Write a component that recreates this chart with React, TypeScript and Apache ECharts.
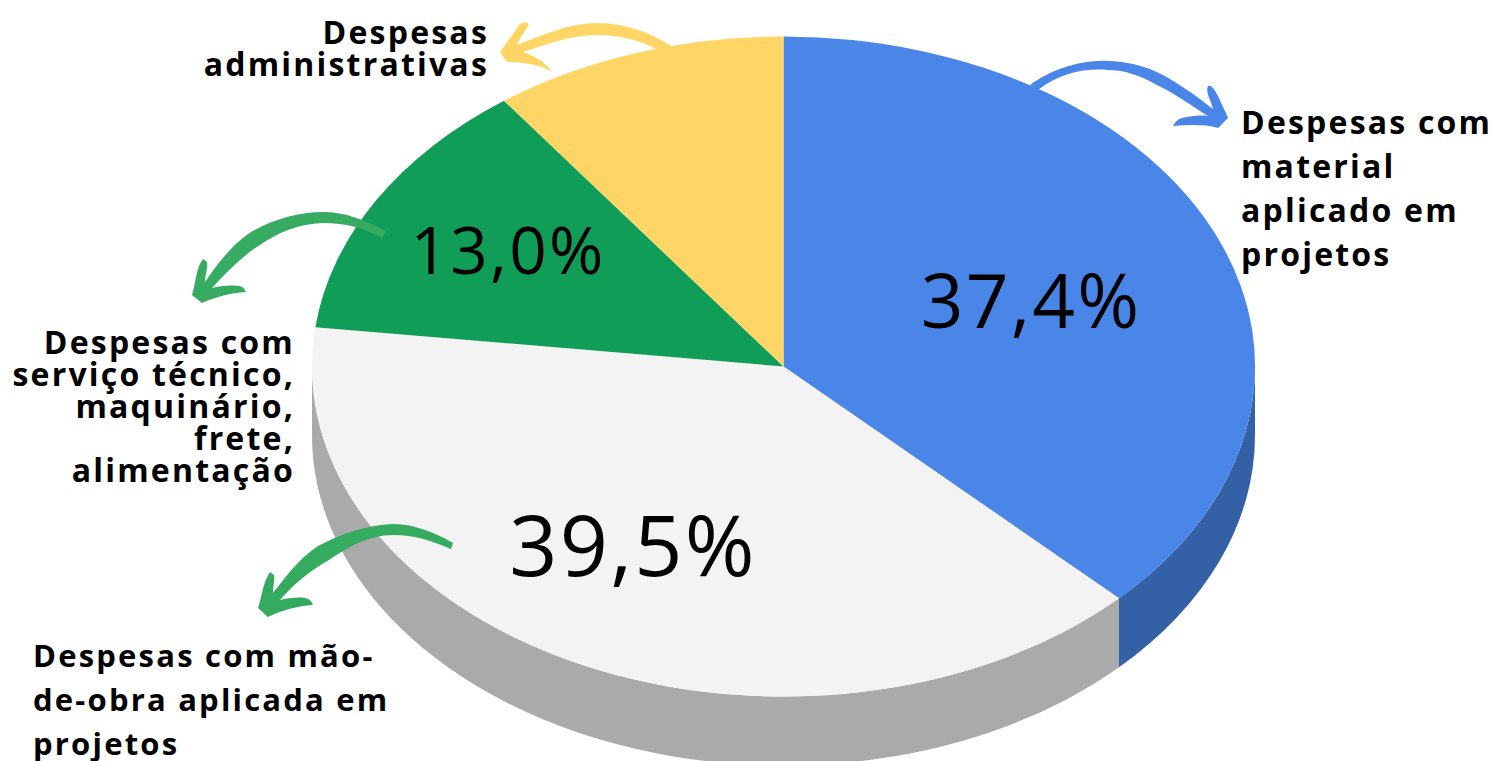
import React, { useEffect, useRef } from "react";
import * as echarts from "echarts";

const categories = [
  "Despesas com material aplicado em projetos",
  "Despesas com mão-de-obra aplicada em projetos",
  "Despesas com serviço técnico, maquinário, frete, alimentação",
  "Despesas administrativas",
];
const shares = [37.4, 39.5, 13.0, 10.1];
const percentLabels = ["37,4%", "39,5%", "13,0%", ""];
const topColors = ["#4A86E8", "#F3F3F3", "#0F9D58", "#FFD666"];
const sideColors = ["#3461A6", "#AAAAAA", "#0B6E3E", "#B39648"];

const CX = 783.5, CY = 366.5, RX = 471.5, RY = 330, DEPTH = 69;
const labelPos = [
  { x: 1031, y: 299, size: 74.8 },
  { x: 633, y: 543, size: 84.4 },
  { x: 508, y: 248, size: 65.7 },
  { x: 0, y: 0, size: 0 },
];

const arrows = [
  { name: "arrowBlue", color: "#4A86E8", d: "M1030 85 C1050 70 1078 61 1100 61 C1118 60 1135 64 1150 69 C1172 78 1195 95 1213 109 C1211 100 1205 92 1208 86 C1212 84 1216 92 1219 98 C1222 106 1226 112 1228 118 L1218 128 C1204 124 1188 125 1173 126 C1175 122 1178 119 1182 118 C1190 116 1200 115 1208 116 C1192 106 1176 94 1157 85 C1141 76 1125 70 1108 70 C1085 68 1060 73 1038 90 Z" },
  { name: "arrowYellow", color: "#FFD666", d: "M673 47 C650 32 625 23 597 23 C570 23 545 34 517 45 C520 38 526 30 529 24 C526 21 522 23 519 25 L500 52 L507 62 C520 62 540 64 552 72 C545 62 535 56 523 52 C545 45 570 35 597 35 C620 35 640 40 660 51 Z" },
  { name: "arrowGreenA", color: "#37AB62", d: "M386 231 C365 220 345 212 323 212 C298 212 270 220 248 234 C230 247 216 266 205 282 C205 275 208 268 207 262 L203 259 C196 268 196 282 192 295 L202 303 C215 297 230 293 246 292 C244 288 242 286 238 286 C228 285 220 286 212 288 C226 273 242 256 260 245 C279 232 298 224 323 223 C345 223 365 228 382 238 Z" },
  { name: "arrowGreenB", color: "#35AB60", d: "M453 543 C435 533 415 524 393 524 C367 525 340 534 318 546 C298 559 285 578 273 593 C273 586 275 580 274 575 L270 572 C263 582 262 596 258 608 L268 617 C282 610 298 606 313 605 C311 601 310 599 305 598 C297 597 288 598 280 600 C292 586 309 571 329 560 C347 548 368 535 393 535 C415 535 432 541 451 549 Z" },
];

const captions = [
  { text: "Despesas com\nmaterial\naplicado em\nprojetos", x: 1241, y: 99, align: "left", lh: 44, size: 32 },
  { text: "Despesas\nadministrativas", x: 489, y: 15, align: "right", lh: 32, size: 32 },
  { text: "Despesas com\nserviço técnico,\nmaquinário,\nfrete,\nalimentação", x: 295, y: 325, align: "right", lh: 32, size: 32 },
  { text: "Despesas com mão-\nde-obra aplicada em\nprojetos", x: 33, y: 633, align: "left", lh: 44, size: 31 },
];

arrows.forEach((a) => {
  echarts.graphic.registerShape(a.name, echarts.graphic.extendPath(a.d, {}) as any);
});

const pt = (t: number, dy = 0) => [CX + RX * Math.sin(t), CY - RY * Math.cos(t) + dy];

function renderSlice(params: any, api: any) {
  const i = params.dataIndex;
  const total = shares.reduce((s, v) => s + v, 0);
  const before = shares.slice(0, i).reduce((s, v) => s + v, 0);
  const a0 = (before / total) * 2 * Math.PI;
  const a1 = ((before + api.value(0)) / total) * 2 * Math.PI;
  const [x0, y0] = pt(a0);
  const [x1, y1] = pt(a1);
  const large = a1 - a0 > Math.PI ? 1 : 0;
  const children: any[] = [];
  const s0 = Math.max(a0, Math.PI / 2);
  const s1 = Math.min(a1, (3 * Math.PI) / 2);
  if (s1 > s0) {
    const [p0x, p0y] = pt(s0);
    const [p1x, p1y] = pt(s1);
    children.push({
      type: "path",
      shape: { pathData: `M${p0x} ${p0y} A${RX} ${RY} 0 0 1 ${p1x} ${p1y} L${p1x} ${p1y + DEPTH} A${RX} ${RY} 0 0 0 ${p0x} ${p0y + DEPTH} Z` },
      style: { fill: sideColors[i] },
      z2: 1,
    });
  }
  children.push({
    type: "path",
    shape: { pathData: `M${CX} ${CY} L${x0} ${y0} A${RX} ${RY} 0 ${large} 1 ${x1} ${y1} Z` },
    style: { fill: topColors[i] },
    z2: 2,
  });
  if (percentLabels[i]) {
    children.push({
      type: "text",
      x: labelPos[i].x,
      y: labelPos[i].y,
      z2: 3,
      style: {
        text: percentLabels[i],
        fill: "#000",
        font: `400 ${labelPos[i].size}px "Open Sans"`,
        align: "center",
        verticalAlign: "middle",
      },
    });
  }
  return { type: "group", children };
}

export default function App() {
  const ref = useRef<HTMLDivElement>(null);
  useEffect(() => {
    document.body.style.margin = "0";
    const chart = echarts.init(ref.current!, undefined, { renderer: "svg" });
    chart.setOption({
      animation: false,
      backgroundColor: "#fff",
      series: [
        {
          type: "custom",
          coordinateSystem: "none",
          renderItem: renderSlice,
          data: shares.map((v, i) => ({ name: categories[i], value: [v] })),
          silent: true,
          z: 2,
        },
      ],
      graphic: [
        ...arrows.map((a) => ({ type: a.name, z: 10, style: { fill: a.color }, silent: true })),
        ...captions.map((c) => ({
          type: "text",
          x: c.x,
          y: c.y,
          z: 11,
          silent: true,
          style: {
            text: c.text,
            fill: "#000",
            font: `700 ${c.size}px "Open Sans"`,
            lineHeight: c.lh,
            align: c.align,
            verticalAlign: "top",
          },
        })),
      ],
    });
    return () => chart.dispose();
  }, []);
  return (
    <div
      ref={ref}
      style={{ width: 1493, height: 761, overflow: "hidden", letterSpacing: "2.2px" }}
    />
  );
}
